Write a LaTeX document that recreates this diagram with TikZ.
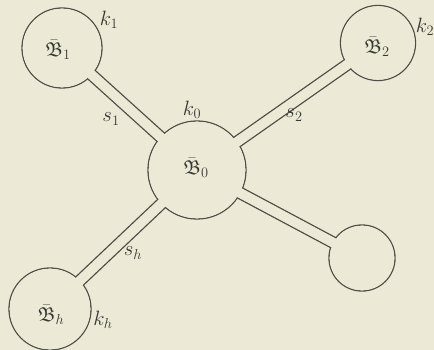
\documentclass[tikz,border=0pt]{standalone}
\usepackage{amsmath,amssymb}
\usepackage{tikz}
\usetikzlibrary{positioning}

\definecolor{paper}{RGB}{236,234,214}
\definecolor{ink}{RGB}{78,78,70}

\begin{document}
\begin{tikzpicture}[x=1pt, y=-1pt, line width=1.3pt,
    basin/.style={circle, draw=ink, inner sep=0pt},
    tube/.style={draw=ink, double=paper, double distance=9.8pt,
      shorten <=-3pt, shorten >=-3pt},
    lbl/.style={text=ink!70!black, font=\fontsize{20}{22}\selectfont}]
  % background / page size
  \useasboundingbox (0,0) rectangle (434,350);
  \fill[paper] (0,0) rectangle (434,350);

  % the basins
  \node[basin, minimum size=98pt] (b0) at (197,170) {};
  \node[basin, minimum size=80pt] (b1) at (62,48) {};
  \node[basin, minimum size=75pt] (b2) at (378,43) {};
  \node[basin, minimum size=82pt] (bh) at (50,309) {};
  \node[basin, minimum size=66pt] (bfree) at (362,258) {};

  % connecting tubes
  \foreach \a in {b1,b2,bh,bfree} {
    \draw[tube] (b0) -- (\a);
  }

  % clear the tube ends inside the basins
  \foreach \a/\r in {b0/49,b1/40,b2/37.5,bh/41,bfree/33} {
    \fill[paper] (\a.center) circle ({\r pt - 0.7pt});
  }

  % labels
  \node[lbl] (lb0) at (196,168) {$\bar{\mathfrak B}_0$};
  \node[lbl] (lb1) at (58,50) {$\bar{\mathfrak B}_1$};
  \node[lbl] (lb2) at (377,47) {$\bar{\mathfrak B}_2$};
  \node[lbl] (lbh) at (51,315) {$\bar{\mathfrak B}_h$};
  \node[lbl] (k0) at (192,110) {$k_0$};
  \node[lbl] (k1) at (109,20) {$k_1$};
  \node[lbl] (k2) at (425,27) {$k_2$};
  \node[lbl] (kh) at (103,320) {$k_h$};
  \node[lbl] (s1) at (111,119) {$s_1$};
  \node[lbl] (s2) at (294,115) {$s_2$};
  \node[lbl] (sh) at (133,253) {$s_h$};
\end{tikzpicture}
\end{document}
